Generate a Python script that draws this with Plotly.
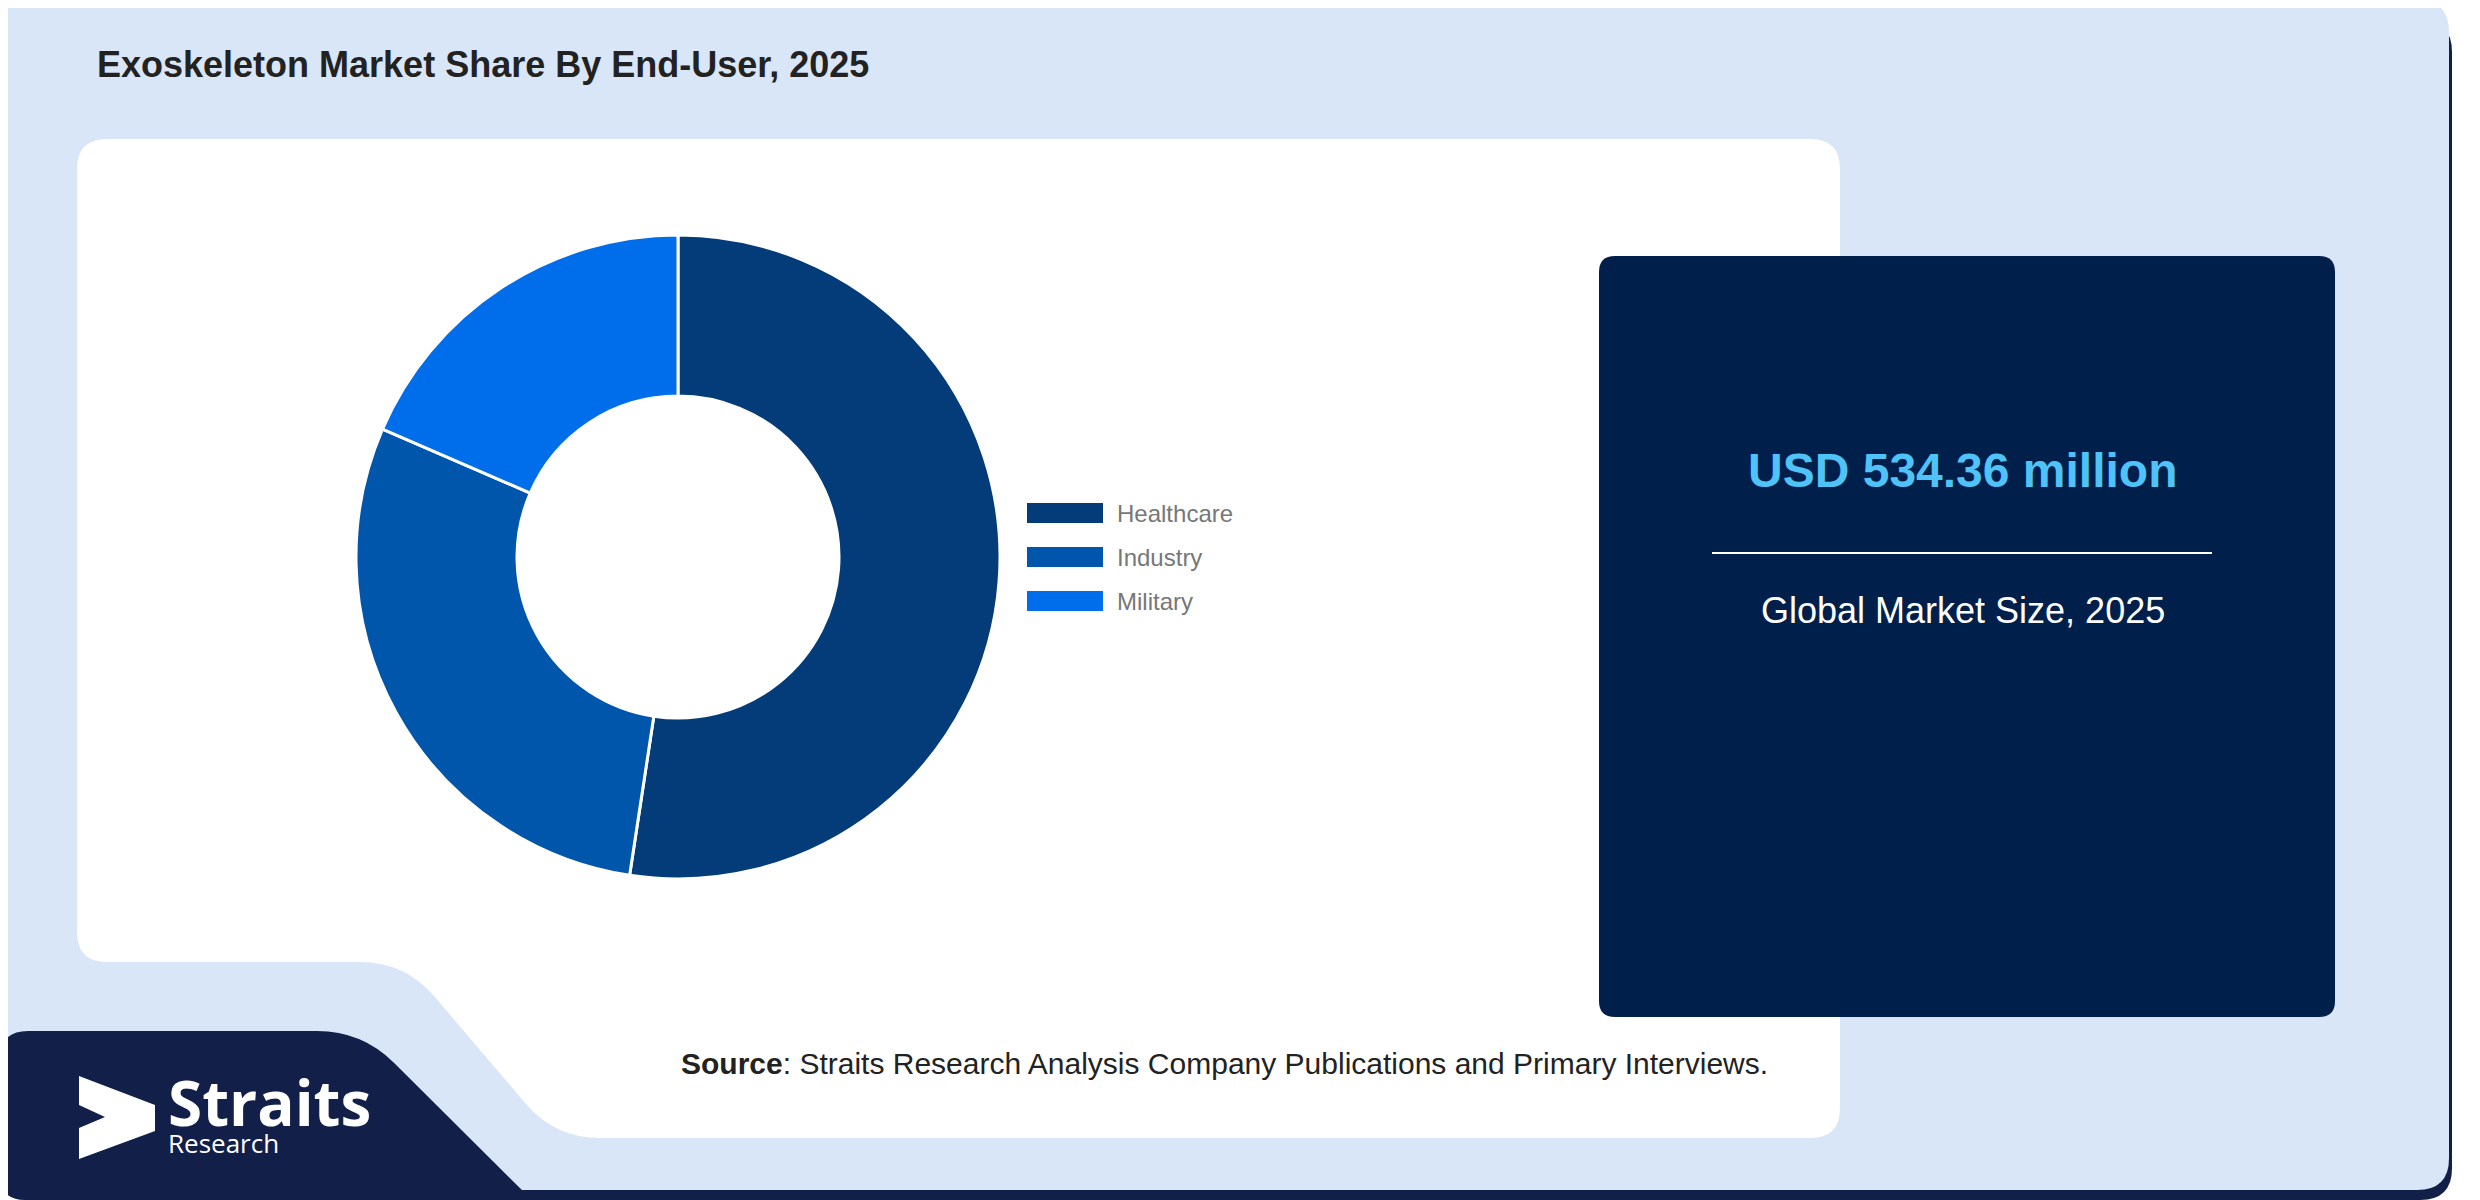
import plotly.graph_objects as go

# page body adds an 8px margin, so the figure is drawn 8px in from the window edge
OFF = 8
W, H = 2480 - OFF, 1200 - OFF

end_users = ["Healthcare", "Industry", "Military"]
shares = [52.4, 29.1, 18.5]
slice_colors = ["#033c78", "#0056aa", "#006deb"]

title_text = "Exoskeleton Market Share By End-User, 2025"
market_value = "USD 534.36 million"
market_label = "Global Market Size, 2025"
source_text = "<b>Source</b>: Straits Research Analysis Company Publications and Primary Interviews."


def px(x):
    return (x - OFF) / W


def py(y):
    return 1 - (y - OFF) / H


def path(points, radius=0):
    # closed polygon in screen pixel coords -> paper path, with rounded corners
    n = len(points)
    segs = []
    for i in range(n):
        p0 = points[i - 1]
        p1 = points[i]
        p2 = points[(i + 1) % n]
        r = radius[i] if isinstance(radius, list) else radius
        d1 = ((p1[0] - p0[0]) ** 2 + (p1[1] - p0[1]) ** 2) ** 0.5
        d2 = ((p2[0] - p1[0]) ** 2 + (p2[1] - p1[1]) ** 2) ** 0.5
        r1 = min(r, d1 / 2)
        r2 = min(r, d2 / 2)
        a = (p1[0] - (p1[0] - p0[0]) * r1 / d1, p1[1] - (p1[1] - p0[1]) * r1 / d1)
        b = (p1[0] + (p2[0] - p1[0]) * r2 / d2, p1[1] + (p2[1] - p1[1]) * r2 / d2)
        segs.append((a, p1, b))
    s = "M %f,%f " % (px(segs[0][0][0]), py(segs[0][0][1]))
    for i, (a, c, b) in enumerate(segs):
        if i > 0:
            s += "L %f,%f " % (px(a[0]), py(a[1]))
        s += "Q %f,%f %f,%f " % (px(c[0]), py(c[1]), px(b[0]), py(b[1]))
    return s + "Z"


NAVY = "#121f48"

shapes = []
# shadow under the card (shows as a dark strip at the bottom)
shapes.append(dict(type="path", path=path([(0, 20), (2452, 20), (2452, 1200), (0, 1200)], 32),
                   fillcolor=NAVY, line=dict(width=0), layer="below"))
# light blue card
shapes.append(dict(type="path", path=path([(0, 0), (2449, 0), (2449, 1190), (0, 1190)], 32),
                   fillcolor="#d9e6f8", line=dict(width=0), layer="below"))
# white chart panel with notch
shapes.append(dict(type="path",
                   path=path([(77, 139), (1840, 139), (1840, 1138), (555, 1138), (405, 962), (77, 962)],
                             [30, 30, 30, 45, 45, 30]),
                   fillcolor="#ffffff", line=dict(width=0), layer="below"))
# logo block
shapes.append(dict(type="path",
                   path=path([(0, 1031), (362, 1031), (532, 1200), (0, 1200)], [28, 45, 0, 25]),
                   fillcolor=NAVY, line=dict(width=0), layer="below"))
# market size box
shapes.append(dict(type="path", path=path([(1599, 256), (2335, 256), (2335, 1017), (1599, 1017)], 16),
                   fillcolor="#011f4b", line=dict(width=0), layer="below"))
# divider line
shapes.append(dict(type="line", x0=px(1712), x1=px(2212), y0=py(553), y1=py(553),
                   line=dict(color="#ffffff", width=2)))
# logo arrow
shapes.append(dict(type="path",
                   path=path([(79, 1076), (155, 1105), (155, 1131), (79, 1159), (79, 1128), (105, 1117), (79, 1105)], 0),
                   fillcolor="#ffffff", line=dict(width=0), layer="above"))

# custom legend swatches
for i, col in enumerate(slice_colors):
    yc = 513 + i * 44
    shapes.append(dict(type="rect", x0=px(1027), x1=px(1103), y0=py(yc - 10), y1=py(yc + 10),
                       fillcolor=col, line=dict(width=0)))

for s in shapes:
    s.update(xref="paper", yref="paper")

cx, cy, r = 678, 557, 322
pie = go.Pie(
    labels=end_users,
    values=shares,
    marker=dict(colors=slice_colors, line=dict(color="#ffffff", width=3)),
    hole=0.5,
    sort=False,
    direction="clockwise",
    rotation=0,
    textinfo="none",
    showlegend=False,
    domain=dict(x=[px(cx - r), px(cx + r)], y=[py(cy + r), py(cy - r)]),
)

font = "Liberation Sans, Arial, sans-serif"
logo_font = "Open Sans, sans-serif"
annotations = [
    dict(text="<b>" + title_text + "</b>", x=px(95), y=py(65), xanchor="left", yanchor="middle",
         font=dict(size=36, color="#222222", family=font)),
    dict(text="<b>" + market_value + "</b>", x=px(1963), y=py(470), xanchor="center", yanchor="middle",
         font=dict(size=48, color="#4fc3f7", family=font)),
    dict(text=market_label, x=px(1963), y=py(610), xanchor="center", yanchor="middle",
         font=dict(size=36, color="#ffffff", family=font)),
    dict(text=source_text, x=px(1224), y=py(1063), xanchor="center", yanchor="middle",
         font=dict(size=30, color="#222222", family=font)),
    dict(text="<span style='font-size:62px'><b>Straits</b></span><br>"
              "<span style='font-size:26px'>Research</span>",
         x=px(166), y=py(1163), xanchor="left", yanchor="bottom", align="left",
         font=dict(size=21, color="#ffffff", family=logo_font)),
]
for i, name in enumerate(end_users):
    annotations.append(dict(text=name, x=px(1115), y=py(513 + i * 44), xanchor="left", yanchor="middle",
                            font=dict(size=24, color="#777777", family=font)))
for a in annotations:
    a.update(xref="paper", yref="paper", showarrow=False)

fig = go.Figure(data=[pie])
fig.update_layout(
    width=W,
    height=H,
    margin=dict(l=0, r=0, t=0, b=0),
    paper_bgcolor="#ffffff",
    plot_bgcolor="#ffffff",
    shapes=shapes,
    annotations=annotations,
)

fig.write_html("out.html")
